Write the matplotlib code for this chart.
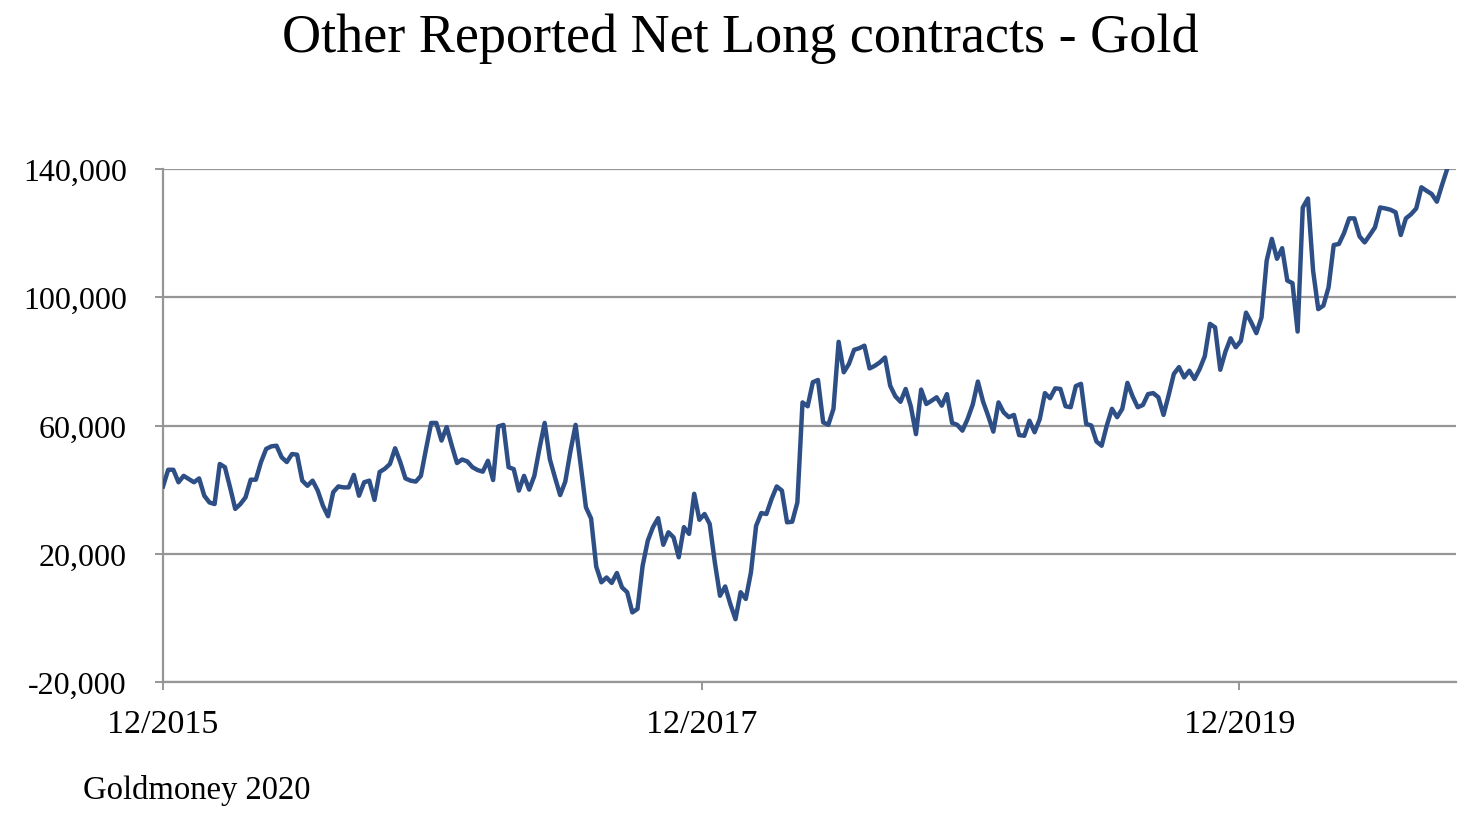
import pandas as pd
import matplotlib
matplotlib.use('Agg')
import matplotlib.pyplot as plt

plt.rcParams['font.family'] = ['Liberation Serif', 'DejaVu Serif']

# Net long contracts, weekly, starting first week of Dec 2015 (values in thousands)
valores_miles = [
    41.0, 46.2, 46.2, 42.3, 44.3, 43.3, 42.3, 43.5, 38.1, 36.0,
    35.5, 48.0, 47.0, 40.7, 34.0, 35.5, 37.6, 43.1, 43.1, 48.6,
    52.7, 53.5, 53.7, 50.1, 48.6, 51.1, 50.9, 42.8, 41.2, 42.8,
    39.7, 35.0, 31.7, 39.2, 41.0, 40.7, 40.7, 44.6, 38.1, 42.3,
    42.8, 36.8, 45.5, 46.5, 48.0, 52.9, 48.6, 43.5, 42.8, 42.5,
    44.3, 52.7, 60.8, 60.8, 55.3, 59.5, 53.7, 48.3, 49.4, 48.8,
    47.0, 46.1, 45.6, 49.0, 43.0, 59.7, 60.2, 47.0, 46.4, 39.7,
    44.3, 40.0, 44.3, 52.9, 60.8, 49.5, 43.8, 38.3, 42.5, 52.0,
    60.2, 47.5, 34.5, 31.0, 16.0, 11.1, 12.6, 10.9, 14.0, 9.5,
    8.0, 1.7, 2.8, 16.3, 24.1, 28.3, 31.1, 22.8, 26.7, 25.1,
    18.9, 28.3, 26.2, 38.7, 30.6, 32.4, 29.3, 17.3, 6.9, 9.8,
    4.3, -0.4, 8.0, 5.9, 14.2, 28.7, 32.7, 32.4, 37.1, 41.0,
    39.7, 29.8, 30.0, 36.0, 67.2, 66.0, 73.5, 74.2, 61.0, 60.2,
    65.2, 86.1, 76.6, 79.2, 83.6, 84.1, 84.9, 77.8, 78.6, 79.7,
    81.2, 72.4, 69.1, 67.4, 71.4, 66.0, 57.3, 71.2, 66.7, 67.7,
    68.8, 66.2, 69.8, 60.8, 60.2, 58.4, 62.0, 66.5, 73.7, 67.5,
    63.0, 58.1, 67.2, 64.1, 62.6, 63.3, 57.0, 56.8, 61.5, 57.9,
    62.0, 70.1, 68.5, 71.6, 71.4, 66.0, 65.7, 72.3, 73.0, 60.5,
    60.0, 55.0, 53.7, 60.0, 65.2, 62.6, 65.2, 73.3, 69.1, 65.7,
    66.4, 69.8, 70.1, 68.8, 63.3, 69.5, 76.1, 78.2, 75.0, 77.1,
    74.5, 77.6, 81.6, 91.7, 90.6, 77.4, 83.0, 87.2, 84.4, 86.4,
    95.2, 92.2, 88.8, 93.7, 111.4, 118.2, 112.0, 115.3, 105.2, 104.4,
    89.3, 128.0, 130.8, 108.3, 96.3, 97.4, 103.1, 116.3, 116.6, 120.0,
    124.6, 124.6, 119.0, 117.1, 119.4, 121.8, 128.0, 127.7, 127.3, 126.5,
    119.4, 124.6, 125.9, 127.7, 134.3, 133.2, 132.2, 129.8, 135.0, 140.0,
]
fechas = pd.date_range('2015-12-01', periods=len(valores_miles), freq='7D')
contratos = [v * 1000 for v in valores_miles]

ticks_y = [-20000, 20000, 60000, 100000, 140000]
ticks_x = ['2015-12-01', '2017-12-01', '2019-12-01']
etiquetas_x = ['12/2015', '12/2017', '12/2019']

fig = plt.figure(figsize=(14.74, 8.28), dpi=100)
ax = fig.add_axes([0.1106, 0.1751, 0.8772, 0.6196])

ax.plot(fechas, contratos, color='#2E4F86', linewidth=3.2, zorder=3)

ax.set_ylim(-20000, 140000)
ax.set_xlim(pd.Timestamp('2015-12-01'), pd.Timestamp('2020-09-20'))
ax.set_yticks(ticks_y)
ax.set_yticklabels([f'{v:,.0f}' for v in ticks_y])
ax.set_xticks([pd.Timestamp(t) for t in ticks_x])
ax.set_xticklabels(etiquetas_x)

ax.grid(axis='y', color='#969696', linewidth=1.6)
ax.set_axisbelow(True)
for lado in ['top', 'right']:
    ax.spines[lado].set_visible(False)
for lado in ['left', 'bottom']:
    ax.spines[lado].set_color('#969696')
    ax.spines[lado].set_linewidth(1.6)

ax.tick_params(axis='y', direction='out', length=6, width=1.4, color='#969696',
               labelsize=23, pad=20)
ax.tick_params(axis='x', direction='out', length=6, width=1.4, color='#969696',
               labelsize=24.5, pad=13)

fig.text(0.502, 0.953, 'Other Reported Net Long contracts - Gold',
         ha='center', va='center', fontsize=39)
fig.text(83 / 1474, 1 - 791 / 828, 'Goldmoney 2020', ha='left', va='center', fontsize=23.5)

fig.savefig('out.png', dpi=100)
